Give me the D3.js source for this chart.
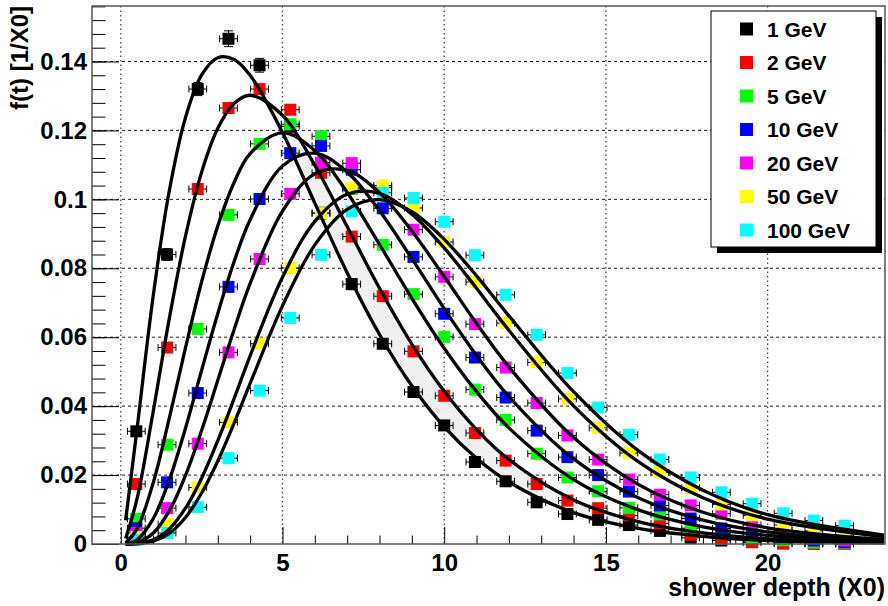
<!DOCTYPE html>
<html lang="en">
<head>
<meta charset="UTF-8">
<title>Shower profiles</title>
<script src="https://cdn.jsdelivr.net/npm/d3@7"></script>
<style>
  body { margin: 0; background: #fff; }
  text { font-family: "Liberation Sans", Arial, sans-serif; font-weight: bold; fill: #000; }
</style>
</head>
<body>
<script>
// shower depth of each measured layer (X0) and its half width
var depth = [0.48, 1.43, 2.38, 3.33, 4.29, 5.24, 6.19, 7.14, 8.10, 9.05, 10.00, 10.95,
             11.90, 12.86, 13.81, 14.76, 15.71, 16.67, 17.62, 18.57, 19.52, 20.48, 21.43, 22.38];
var depthErr = 0.275;

// measured f(t) per energy
var gev1   = [0.0327, 0.0840, 0.1320, 0.1466, 0.1389, 0.1212, 0.0960, 0.0754, 0.0581, 0.0441, 0.0344, 0.0238,
              0.0182, 0.0121, 0.0087, 0.0070, 0.0055, 0.0038, 0.0018, 0.0010, 0.0006, 0.0003, 0.0002, 0.0001];
var gev2   = [0.0174, 0.0570, 0.1030, 0.1265, 0.1320, 0.1260, 0.1077, 0.0892, 0.0719, 0.0559, 0.0430, 0.0322,
              0.0242, 0.0174, 0.0126, 0.0104, 0.0083, 0.0060, 0.0027, 0.0015, 0.0005, 0.0001, 0.0000, 0.0000];
var gev5   = [0.0073, 0.0288, 0.0624, 0.0955, 0.1161, 0.1218, 0.1183, 0.1030, 0.0868, 0.0725, 0.0601, 0.0448,
              0.0360, 0.0262, 0.0193, 0.0153, 0.0105, 0.0086, 0.0046, 0.0031, 0.0018, 0.0011, 0.0004, 0.0002];
var gev10  = [0.0046, 0.0179, 0.0438, 0.0746, 0.1001, 0.1134, 0.1155, 0.1086, 0.0974, 0.0833, 0.0668, 0.0541,
              0.0425, 0.0329, 0.0252, 0.0200, 0.0152, 0.0112, 0.0074, 0.0045, 0.0030, 0.0020, 0.0010, 0.0005];
var gev20  = [0.0032, 0.0104, 0.0291, 0.0556, 0.0827, 0.1016, 0.1107, 0.1105, 0.1035, 0.0912, 0.0775, 0.0638,
              0.0512, 0.0409, 0.0315, 0.0245, 0.0187, 0.0143, 0.0112, 0.0088, 0.0055, 0.0038, 0.0020, 0.0010];
var gev50  = [0.0020, 0.0058, 0.0164, 0.0353, 0.0581, 0.0801, 0.0960, 0.1033, 0.1040, 0.0975, 0.0876, 0.0760,
              0.0641, 0.0527, 0.0421, 0.0337, 0.0264, 0.0208, 0.0163, 0.0115, 0.0083, 0.0055, 0.0038, 0.0026];
var gev100 = [0.0012, 0.0032, 0.0107, 0.0249, 0.0445, 0.0656, 0.0839, 0.0965, 0.1019, 0.1004, 0.0935, 0.0838,
              0.0723, 0.0607, 0.0496, 0.0396, 0.0317, 0.0245, 0.0193, 0.0150, 0.0117, 0.0089, 0.0068, 0.0053];

// vertical errors, only the 1 GeV points show them
var gev1Err = [0.0011, 0.0017, 0.0019, 0.0023, 0.0020, 0.0019, 0.0017, 0.0016, 0.0014, 0.0012, 0.0010, 0.0009,
               0.0008, 0.0006, 0.0005, 0.0005, 0.0004, 0.0003, 0.0002, 0.0002, 0.0001, 0.0001, 0.0001, 0.0001];

// fitted curves
var fitDepth = [0.15, 0.5, 1, 1.5, 2, 2.5, 3, 3.5, 4, 5, 6, 7, 8, 9, 10, 11, 12, 14, 16, 18, 20, 23.6];
var fit1   = [0.0069, 0.0332, 0.0718, 0.1025, 0.1237, 0.1361, 0.1411, 0.1406, 0.1360, 0.1194, 0.0989,
              0.0787, 0.0608, 0.0459, 0.0340, 0.0249, 0.0180, 0.0091, 0.0045, 0.0022, 0.0010, 0.0003];
var fit2   = [0.0016, 0.0130, 0.0383, 0.0654, 0.0893, 0.1079, 0.1206, 0.1278, 0.1302, 0.1244, 0.1099,
              0.0921, 0.0742, 0.0580, 0.0443, 0.0332, 0.0245, 0.0128, 0.0065, 0.0032, 0.0015, 0.0004];
var fit5   = [0.0003, 0.0044, 0.0177, 0.0365, 0.0569, 0.0761, 0.0923, 0.1048, 0.1133, 0.1193, 0.1141,
              0.1020, 0.0869, 0.0713, 0.0568, 0.0442, 0.0337, 0.0187, 0.0099, 0.0050, 0.0025, 0.0007];
var fit10  = [0.0000, 0.0012, 0.0073, 0.0186, 0.0336, 0.0504, 0.0669, 0.0818, 0.0941, 0.1097, 0.1134,
              0.1079, 0.0967, 0.0828, 0.0683, 0.0547, 0.0428, 0.0247, 0.0134, 0.0069, 0.0035, 0.0009];
var fit20  = [0.0000, 0.0004, 0.0031, 0.0096, 0.0199, 0.0330, 0.0475, 0.0621, 0.0756, 0.0966, 0.1074,
              0.1084, 0.1019, 0.0908, 0.0776, 0.0640, 0.0514, 0.0309, 0.0173, 0.0092, 0.0047, 0.0013];
var fit50  = [0.0000, 0.0001, 0.0012, 0.0044, 0.0104, 0.0191, 0.0300, 0.0421, 0.0546, 0.0774, 0.0936,
              0.1015, 0.1017, 0.0957, 0.0859, 0.0742, 0.0620, 0.0401, 0.0239, 0.0134, 0.0072, 0.0021];
var fit100 = [0.0000, 0.0001, 0.0008, 0.0031, 0.0077, 0.0148, 0.0241, 0.0350, 0.0466, 0.0691, 0.0868,
              0.0971, 0.0999, 0.0964, 0.0884, 0.0778, 0.0662, 0.0442, 0.0271, 0.0156, 0.0085, 0.0026];

var energies = ["1 GeV", "2 GeV", "5 GeV", "10 GeV", "20 GeV", "50 GeV", "100 GeV"];
var colors = ["#000000", "#ff0000", "#00ff00", "#0000ff", "#ff00ff", "#ffff00", "#00ffff"];

var xTicks = [0, 5, 10, 15, 20];
var xMinor = [1, 2, 3, 4, 6, 7, 8, 9, 11, 12, 13, 14, 16, 17, 18, 19, 21, 22, 23];
var yTicks = [0, 0.02, 0.04, 0.06, 0.08, 0.1, 0.12, 0.14];
var yTickLabels = ["0", "0.02", "0.04", "0.06", "0.08", "0.1", "0.12", "0.14"];

var series = [gev1, gev2, gev5, gev10, gev20, gev50, gev100];
var seriesErr = [gev1Err, null, null, null, null, null, null];
var fits = [fit1, fit2, fit5, fit10, fit20, fit50, fit100];

var w = 888, h = 606;
var padL = 92, padR = 885, padT = 6, padB = 544;

var svg = d3.select("body").append("svg")
    .attr("width", w)
    .attr("height", h);

var xScale = d3.scaleLinear().domain([-0.89, 23.63]).range([padL, padR]);
var yScale = d3.scaleLinear().domain([0, 0.1561]).range([padB, padT]);

// grid
svg.append("g").selectAll("line")
    .data(yTicks.slice(1))
    .enter().append("line")
    .attr("x1", padL).attr("x2", padR)
    .attr("y1", function(d) { return yScale(d); })
    .attr("y2", function(d) { return yScale(d); })
    .attr("stroke", "#000").attr("stroke-width", 0.9)
    .attr("stroke-dasharray", "3,3");

svg.append("g").selectAll("line")
    .data(xTicks)
    .enter().append("line")
    .attr("x1", function(d) { return xScale(d); })
    .attr("x2", function(d) { return xScale(d); })
    .attr("y1", padT).attr("y2", padB)
    .attr("stroke", "#444").attr("stroke-width", 1.3)
    .attr("stroke-dasharray", "1.5,3");

var smooth = d3.curveCatmullRom.alpha(0.5);

// faint band between the two lowest energy fits, only past their crossing
svg.append("clipPath").attr("id", "bandClip")
    .append("rect")
    .attr("x", xScale(4.6)).attr("y", padT)
    .attr("width", padR - xScale(4.6)).attr("height", padB - padT);

var band = d3.area()
    .x(function(d, i) { return xScale(fitDepth[i]); })
    .y0(function(d, i) { return yScale(fit2[i]); })
    .y1(function(d) { return yScale(d); })
    .curve(smooth);
svg.append("path")
    .datum(fit1)
    .attr("d", band)
    .attr("clip-path", "url(#bandClip)")
    .attr("fill", "#f0f0f0");

// points with error bars
series.forEach(function(vals, s) {
    var g = svg.append("g");
    var err = seriesErr[s];
    vals.forEach(function(v, i) {
        var cx = xScale(depth[i]), cy = yScale(v);
        var xl = xScale(depth[i] - depthErr), xr = xScale(depth[i] + depthErr);
        g.append("line").attr("x1", xl).attr("x2", xr).attr("y1", cy).attr("y2", cy)
            .attr("stroke", "#000").attr("stroke-width", 1);
        g.append("line").attr("x1", xl).attr("x2", xl).attr("y1", cy - 3.5).attr("y2", cy + 3.5)
            .attr("stroke", "#000").attr("stroke-width", 1);
        g.append("line").attr("x1", xr).attr("x2", xr).attr("y1", cy - 3.5).attr("y2", cy + 3.5)
            .attr("stroke", "#000").attr("stroke-width", 1);
        if (err) {
            var yt = yScale(v + err[i]), yb = yScale(v - err[i]);
            g.append("line").attr("x1", cx).attr("x2", cx).attr("y1", yt).attr("y2", yb)
                .attr("stroke", "#000").attr("stroke-width", 1);
            g.append("line").attr("x1", cx - 4.5).attr("x2", cx + 4.5).attr("y1", yt).attr("y2", yt)
                .attr("stroke", "#000").attr("stroke-width", 1);
            g.append("line").attr("x1", cx - 4.5).attr("x2", cx + 4.5).attr("y1", yb).attr("y2", yb)
                .attr("stroke", "#000").attr("stroke-width", 1);
        }
    });
    g.selectAll("rect")
        .data(vals)
        .enter().append("rect")
        .attr("x", function(d, i) { return xScale(depth[i]) - 6; })
        .attr("y", function(d) { return yScale(d) - 6; })
        .attr("width", 12).attr("height", 12)
        .attr("fill", colors[s]);
});

// fit curves
var line = d3.line()
    .x(function(d, i) { return xScale(fitDepth[i]); })
    .y(function(d) { return yScale(d); })
    .curve(smooth);

svg.append("g").selectAll("path")
    .data(fits)
    .enter().append("path")
    .attr("d", line)
    .attr("fill", "none")
    .attr("stroke", "#000")
    .attr("stroke-width", 3.3);

// axes
var yAxis = svg.append("g")
    .attr("transform", "translate(" + padL + ",0)")
    .call(d3.axisLeft(yScale).tickValues(yTicks).tickSize(-27).tickPadding(5)
        .tickFormat(function(d, i) { return yTickLabels[i]; }));
var yMinor = d3.range(0, 0.1561, 0.004);
svg.append("g")
    .attr("transform", "translate(" + padL + ",0)")
    .call(d3.axisLeft(yScale).tickValues(yMinor).tickSize(-13.5).tickFormat(""));

var xAxis = svg.append("g")
    .attr("transform", "translate(0," + padB + ")")
    .call(d3.axisBottom(xScale).tickValues(xTicks).tickSize(-17).tickPadding(10));
svg.append("g")
    .attr("transform", "translate(0," + padB + ")")
    .call(d3.axisBottom(xScale).tickValues(xMinor).tickSize(-8.5).tickFormat(""));

svg.selectAll(".domain").remove();
svg.selectAll(".tick line").attr("stroke", "#000").attr("stroke-width", 1);
svg.selectAll(".tick text").attr("fill", "#000").style("font-size", "24px")
    .style("font-family", "'Liberation Sans', Arial, sans-serif").style("font-weight", "bold");

// frame
svg.append("rect")
    .attr("x", padL).attr("y", padT)
    .attr("width", padR - padL).attr("height", padB - padT)
    .attr("fill", "none").attr("stroke", "#555").attr("stroke-width", 1.5);

// titles
svg.append("text")
    .attr("transform", "translate(28,6) rotate(-90)")
    .attr("text-anchor", "end")
    .style("font-size", "24px")
    .text("f(t) [1/X0]");

svg.append("text")
    .attr("x", 885).attr("y", 596)
    .attr("text-anchor", "end")
    .style("font-size", "25px")
    .text("shower depth (X0)");

// legend
var lg = svg.append("g");
lg.append("rect").attr("x", 717).attr("y", 17).attr("width", 165).attr("height", 236).attr("fill", "#000");
lg.append("rect").attr("x", 711).attr("y", 11).attr("width", 165).attr("height", 236)
    .attr("fill", "#fff").attr("stroke", "#000").attr("stroke-width", 1);
energies.forEach(function(name, i) {
    var cy = 29 + i * 33.5;
    lg.append("rect").attr("x", 740).attr("y", cy - 6.5).attr("width", 13).attr("height", 13)
        .attr("fill", colors[i]);
    lg.append("text").attr("x", 767).attr("y", cy).attr("dy", "0.36em")
        .style("font-size", "21px")
        .text(name);
});
</script>
</body>
</html>
